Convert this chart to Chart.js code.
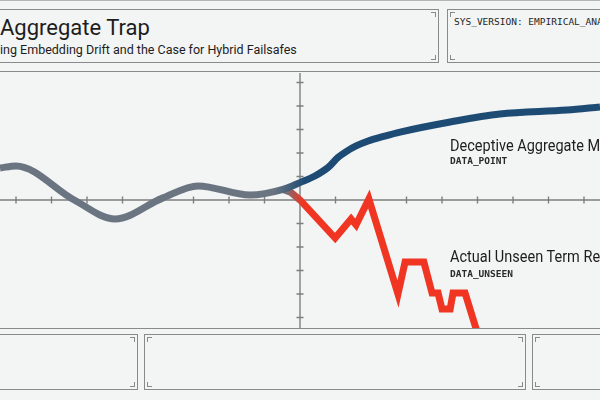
<!DOCTYPE html>
<html>
<head>
<meta charset="utf-8">
<script src="https://cdn.jsdelivr.net/npm/chart.js@4.4.0/dist/chart.umd.min.js"></script>
<style>
html,body{margin:0;padding:0;}
body{width:600px;height:400px;overflow:hidden;position:relative;background:#f3f4f4;font-family:Roboto,"Noto Sans",sans-serif;color:#1d1d1d;}
.box{position:absolute;border:1.5px solid #8a8a8a;box-sizing:border-box;}
.br{position:absolute;width:5px;height:5px;border:0 solid #8a8a8a;box-sizing:border-box;}
.tl{left:2px;top:2px;border-top-width:1px;border-left-width:1px;}
.tr{right:2px;top:2px;border-top-width:1px;border-right-width:1px;}
.bl{left:2px;bottom:2px;border-bottom-width:1px;border-left-width:1px;}
.brr{right:2px;bottom:2px;border-bottom-width:1px;border-right-width:1px;}
.txt{position:absolute;white-space:nowrap;line-height:1;}
.lbl{font-size:16.5px;transform:scaleX(0.88);transform-origin:0 0;}
.mono{font-family:"DejaVu Sans Mono","Liberation Mono",monospace;}
.tag{font-size:9.5px;font-weight:bold;color:#2b2b2b;}
#wrap{position:absolute;left:0;top:73px;width:600px;height:255px;}
</style>
</head>
<body>
<div style="position:absolute;left:0;top:0;width:600px;height:1px;background:#b5b5b5"></div>

<div class="box" style="left:-20px;top:9px;width:459px;height:54px;">
  <div class="br tr"></div><div class="br brr"></div>
</div>
<div class="txt" style="left:0;top:17px;font-size:22px;">Aggregate Trap</div>
<div class="txt" style="left:0;top:44px;font-size:12.5px;">ing Embedding Drift and the Case for Hybrid Failsafes</div>

<div class="box" style="left:447px;top:9px;width:200px;height:54px;">
  <div class="br tl"></div><div class="br bl"></div>
</div>
<div class="txt mono" style="left:454px;top:17px;font-size:9.5px;color:#262626;">SYS_VERSION: EMPIRICAL_ANALYSIS</div>

<div class="box" style="left:-20px;top:71px;width:640px;height:258px;"></div>

<div id="wrap"><canvas id="c" width="600" height="255"></canvas></div>

<div class="txt lbl" style="left:450px;top:138px;">Deceptive Aggregate Metric</div>
<div class="txt mono tag" style="left:450px;top:156px;">DATA_POINT</div>
<div class="txt lbl" style="left:450px;top:249px;">Actual Unseen Term Recall</div>
<div class="txt mono tag" style="left:450px;top:269px;">DATA_UNSEEN</div>

<div class="box" style="left:-20px;top:334px;width:158px;height:56px;">
  <div class="br tr"></div><div class="br brr"></div>
</div>
<div class="box" style="left:144px;top:334px;width:382px;height:56px;">
  <div class="br tl"></div><div class="br tr"></div><div class="br bl"></div><div class="br brr"></div>
</div>
<div class="box" style="left:532px;top:334px;width:100px;height:56px;">
  <div class="br tl"></div><div class="br bl"></div>
</div>

<script>
// ---- data ----
const xTicks = [-8,-7,-6,-5,-4,-3,-2,-1,1,2,3,4,5,6,7,8];
const yTicks = [-5,-4,-3,-2,-1,1,2,3,4,5];

const aggregateX = [-8.45,-8.00,-6.36,-5.21,-3.86,-2.87,-1.41,-0.48,0.00,0.42,0.79,1.07,1.30,1.58,1.92,2.39,2.82,4.23,5.63,7.52,8.45];
const aggregateY = [ 1.36, 1.45, 0.00,-0.81, 0.09, 0.60, 0.21, 0.45,0.74,1.02,1.38,1.81,2.06,2.30,2.51,2.72,2.89,3.32,3.66,3.83,3.96];

const unseenX = [-0.48,-0.25,0.00,0.99,1.44,1.58,1.94,2.76,2.96,3.49,3.72,3.89,4.00,4.23,4.31,4.65,4.99];
const unseenY = [ 0.45, 0.32,0.00,-1.62,-0.81,-1.06,0.04,-4.00,-2.64,-2.64,-3.96,-3.96,-4.64,-4.64,-3.96,-3.96,-5.62];

const X_MIN = -8.451, X_MAX = 8.451, Y_MIN = -5.447, Y_MAX = 5.404;

const GRAY = '#6b7581', BLUE = '#1d4b74', RED = '#f03522', AXIS = '#7e7e7e';

function pts(xs, ys){ return xs.map((x,i)=>({x:x, y:ys[i]})); }

function fade(from, to, c2){
  return function(ctx){
    const chart = ctx.chart;
    if(!chart.chartArea) return c2;
    const xs = chart.scales.x;
    const g = chart.ctx.createLinearGradient(xs.getPixelForValue(from),0,xs.getPixelForValue(to),0);
    g.addColorStop(0, GRAY); g.addColorStop(1, c2);
    return g;
  };
}

const axesPlugin = {
  id:'axes',
  beforeDatasetsDraw(chart){
    const {ctx, chartArea:a, scales:{x,y}} = chart;
    const x0 = Math.round(x.getPixelForValue(0));
    const y0 = Math.round(y.getPixelForValue(0));
    ctx.save();
    ctx.strokeStyle = AXIS; ctx.lineWidth = 1.4;
    ctx.beginPath();
    ctx.moveTo(a.left, y0); ctx.lineTo(a.right, y0);
    ctx.moveTo(x0, a.top - 2); ctx.lineTo(x0, a.bottom + 2);
    xTicks.forEach(v=>{ const p = x.getPixelForValue(v); ctx.moveTo(p, y0-3.5); ctx.lineTo(p, y0+3.5); });
    yTicks.forEach(v=>{ const p = y.getPixelForValue(v); ctx.moveTo(x0-3.5, p); ctx.lineTo(x0+3.5, p); });
    ctx.stroke();
    ctx.restore();
  }
};

new Chart(document.getElementById('c'), {
  type:'line',
  data:{
    datasets:[
      {
        label:'Deceptive Aggregate Metric',
        data: pts(aggregateX, aggregateY),
        borderColor: fade(-0.75, 0.15, BLUE),
        borderWidth: 7,
        cubicInterpolationMode:'monotone',
        borderJoinStyle:'round',
        borderCapStyle:'butt',
        pointRadius:0, fill:false
      },
      {
        label:'Actual Unseen Term Recall',
        data: pts(unseenX, unseenY),
        borderColor: fade(-0.45, 0.08, RED),
        borderWidth: 7,
        tension:0,
        borderJoinStyle:'miter',
        borderCapStyle:'butt',
        pointRadius:0, fill:false
      }
    ]
  },
  options:{
    responsive:false,
    animation:false,
    devicePixelRatio:1,
    layout:{padding:0},
    plugins:{legend:{display:false}, tooltip:{enabled:false}, title:{display:false}},
    scales:{
      x:{type:'linear', min:X_MIN, max:X_MAX, display:false},
      y:{type:'linear', min:Y_MIN, max:Y_MAX, display:false}
    }
  },
  plugins:[axesPlugin]
});
</script>
</body>
</html>
